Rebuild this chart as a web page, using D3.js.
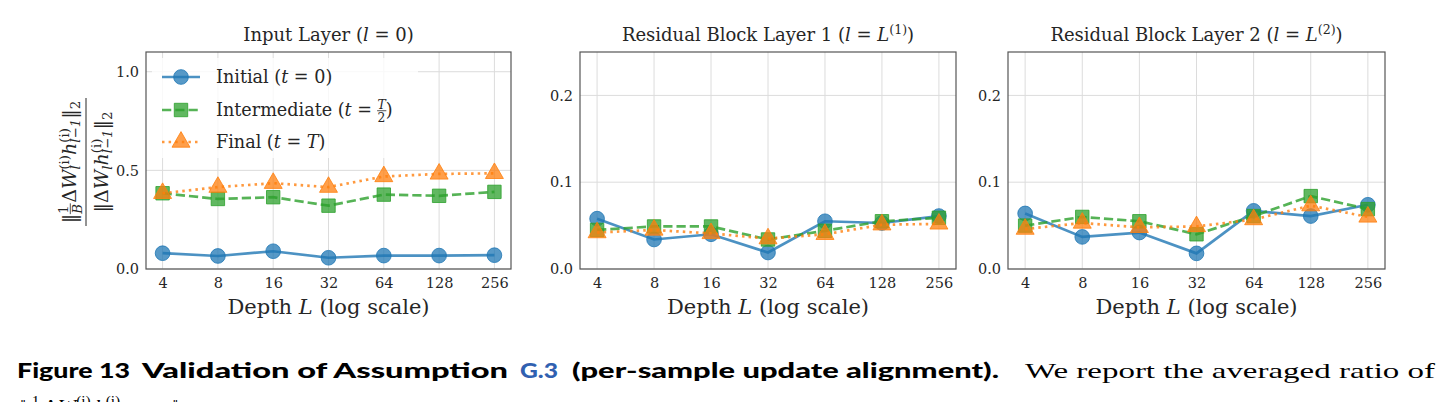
<!DOCTYPE html>
<html>
<head>
<meta charset="utf-8">
<script src="https://cdn.jsdelivr.net/npm/d3@7"></script>
<style>
  body { margin: 0; background: #fff; }
  svg { display: block; }
  text { font-family: "DejaVu Serif", serif; fill: #262626; }
</style>
</head>
<body>
<div id="chart"></div>
<script>
// depths on the x axis (log2)
const depths = [4, 8, 16, 32, 64, 128, 256];
const seriesNames = ["Initial", "Intermediate", "Final"];

// Input layer (l = 0)
const inputInitial = [0.080, 0.066, 0.090, 0.057, 0.068, 0.068, 0.070];
const inputIntermediate = [0.384, 0.355, 0.364, 0.321, 0.377, 0.371, 0.391];
const inputFinal = [0.384, 0.415, 0.435, 0.415, 0.469, 0.482, 0.485];

// Residual block layer 1
const res1Initial = [0.058, 0.034, 0.040, 0.019, 0.055, 0.053, 0.061];
const res1Intermediate = [0.045, 0.049, 0.049, 0.034, 0.044, 0.055, 0.059];
const res1Final = [0.042, 0.045, 0.041, 0.035, 0.040, 0.051, 0.052];

// Residual block layer 2
const res2Initial = [0.064, 0.037, 0.042, 0.018, 0.067, 0.061, 0.074];
const res2Intermediate = [0.050, 0.060, 0.055, 0.040, 0.061, 0.084, 0.069];
const res2Final = [0.046, 0.053, 0.048, 0.049, 0.057, 0.073, 0.060];

const inputTicks = [0.0, 0.5, 1.0];
const resTicks = [0.0, 0.1, 0.2];

const colors = ["#1f77b4", "#2ca02c", "#ff7f0e"];
const dashes = [null, "9.25,4", "2.5,4.1"];
const symbols = [d3.symbolCircle, d3.symbolSquare, d3.symbolTriangle];
const symbolSizes = [170, 180, 140];

const svg = d3.select("#chart").append("svg")
    .attr("width", 1442).attr("height", 402);

// rich text helper: parts are {t, it, s: "sup"|"sub"|"num"|"den", back, bar, dx}
function rich(text, parts, size) {
    let cur = 0, backW = 0, subW = 0, idx = 0;
    const bars = [];
    const shifts = {sup: -0.38, sub: 0.22, num: -0.42, den: 0.34};
    parts.forEach((p, i) => {
        const small = p.s ? size * 0.7 : size;
        const target = (shifts[p.s] || 0) * size;
        const ts = text.append("tspan")
            .attr("dy", target - cur)
            .style("font-size", small + "px")
            .text(p.t);
        if (p.it) ts.style("font-style", "italic");
        if (p.dx) ts.attr("dx", p.dx);
        const prev = parts[i - 1];
        if (prev && prev.back) ts.attr("dx", -backW);
        if (prev && prev.afterBack && backW > subW) ts.attr("dx", backW - subW);
        cur = target;
        if (p.back) { backW = ts.node().getComputedTextLength(); p.idx = idx; }
        if (prev && prev.back) {
            subW = ts.node().getComputedTextLength();
            p.afterBack = true;
            if (prev.bar) bars.push({idx: prev.idx, w: Math.max(backW, subW)});
        }
        idx += p.t.length;
    });
    if (cur !== 0) text.append("tspan").attr("dy", -cur).text("");
    const parent = d3.select(text.node().parentNode);
    const y0 = +text.attr("y");
    bars.forEach(b => {
        const pt = text.node().getStartPositionOfChar(b.idx);
        parent.append("line")
            .attr("x1", pt.x - 0.5).attr("x2", pt.x + b.w + 0.5)
            .attr("y1", y0 - 0.3 * size).attr("y2", y0 - 0.3 * size)
            .attr("stroke", "#262626").attr("stroke-width", 0.8);
    });
    return text;
}

const panels = [
    {
        frame: [146, 511], yMax: 1.1, ticks: inputTicks,
        data: [inputInitial, inputIntermediate, inputFinal],
        title: [{t: "Input Layer ("}, {t: "l", it: true}, {t: " = 0)"}]
    },
    {
        frame: [580, 956], yMax: 0.25, ticks: resTicks,
        data: [res1Initial, res1Intermediate, res1Final],
        title: [{t: "Residual Block Layer 1 ("}, {t: "l", it: true}, {t: " = "}, {t: "L", it: true}, {t: "(1)", s: "sup"}, {t: ")"}]
    },
    {
        frame: [1008, 1385], yMax: 0.25, ticks: resTicks,
        data: [res2Initial, res2Intermediate, res2Final],
        title: [{t: "Residual Block Layer 2 ("}, {t: "l", it: true}, {t: " = "}, {t: "L", it: true}, {t: "(2)", s: "sup"}, {t: ")"}]
    }
];

const plotTop = 52, plotBottom = 269;

panels.forEach((p, pi) => {
    const [left, right] = p.frame;
    const x = d3.scaleLog().base(2)
        .domain([4 / Math.pow(2, 0.3), 256 * Math.pow(2, 0.3)])
        .range([left, right]);
    const y = d3.scaleLinear().domain([0, p.yMax]).range([plotBottom, plotTop]);
    const g = svg.append("g");

    // grid
    g.selectAll(".gx").data(depths).enter().append("line")
        .attr("x1", d => x(d)).attr("x2", d => x(d))
        .attr("y1", plotTop).attr("y2", plotBottom)
        .attr("stroke", "#dcdcdc").attr("stroke-width", 1);
    g.selectAll(".gy").data(p.ticks).enter().append("line")
        .attr("x1", left).attr("x2", right)
        .attr("y1", d => y(d)).attr("y2", d => y(d))
        .attr("stroke", "#dcdcdc").attr("stroke-width", 1);

    // axes (no tick marks)
    const xAxis = g.append("g").attr("transform", `translate(0,${plotBottom})`)
        .call(d3.axisBottom(x).tickValues(depths).tickFormat(d3.format("d")).tickSize(0).tickPadding(9));
    const yAxis = g.append("g").attr("transform", `translate(${left},0)`)
        .call(d3.axisLeft(y).tickValues(p.ticks).tickFormat(d3.format(".1f")).tickSize(0).tickPadding(7));
    [xAxis, yAxis].forEach(a => {
        a.select(".domain").remove();
        a.selectAll("text").style("font-family", "DejaVu Serif").style("font-size", "14.5px").attr("fill", "#262626");
    });

    // legend background sits under the series in the first panel
    if (pi === 0) {
        g.append("rect").attr("x", 152).attr("y", 58).attr("width", 266).attr("height", 100)
            .attr("fill", "#fff").attr("fill-opacity", 0.8);
    }

    // series
    p.data.forEach((vals, si) => {
        const pts = depths.map((d, i) => [d, vals[i]]);
        g.append("path")
            .datum(pts)
            .attr("d", d3.line().x(d => x(d[0])).y(d => y(d[1])))
            .attr("fill", "none")
            .attr("stroke", colors[si])
            .attr("stroke-opacity", 0.8)
            .attr("stroke-width", 2.7)
            .attr("stroke-dasharray", dashes[si]);
        g.selectAll(".m" + si).data(pts).enter().append("path")
            .attr("transform", d => `translate(${x(d[0])},${y(d[1])})`)
            .attr("d", d3.symbol().type(symbols[si]).size(symbolSizes[si]))
            .attr("fill", colors[si]).attr("fill-opacity", 0.75)
            .attr("stroke", colors[si]).attr("stroke-opacity", 0.8).attr("stroke-width", 1);
    });

    // frame
    g.append("rect")
        .attr("x", left).attr("y", plotTop)
        .attr("width", right - left).attr("height", plotBottom - plotTop)
        .attr("fill", "none").attr("stroke", "#555").attr("stroke-width", 1.2);

    // title
    rich(g.append("text").attr("x", (left + right) / 2).attr("y", 41)
        .attr("text-anchor", "middle"), p.title, 18);

    // x label
    rich(g.append("text").attr("x", (left + right) / 2).attr("y", 314)
        .attr("text-anchor", "middle"),
        [{t: "Depth "}, {t: "L", it: true}, {t: " (log scale)"}], 21);
});

// legend in first panel
const legendLabels = [
    [{t: "Initial ("}, {t: "t", it: true}, {t: " = 0)"}],
    [{t: "Intermediate ("}, {t: "t", it: true}, {t: " = "}, {t: "T", it: true, s: "num", back: true, bar: true}, {t: "2", s: "den"}, {t: ")"}],
    [{t: "Final ("}, {t: "t", it: true}, {t: " = "}, {t: "T", it: true}, {t: ")"}]
];
const legend = svg.append("g");
seriesNames.forEach((name, i) => {
    const ly = [77, 110, 142][i];
    legend.append("line")
        .attr("x1", 162).attr("x2", 200).attr("y1", ly).attr("y2", ly)
        .attr("stroke", colors[i]).attr("stroke-opacity", 0.8)
        .attr("stroke-width", 2.7).attr("stroke-dasharray", dashes[i]);
    legend.append("path")
        .attr("transform", `translate(181,${ly})`)
        .attr("d", d3.symbol().type(symbols[i]).size(symbolSizes[i]))
        .attr("fill", colors[i]).attr("fill-opacity", 0.75)
        .attr("stroke", colors[i]).attr("stroke-opacity", 0.8);
    rich(legend.append("text").attr("x", 216).attr("y", ly + 6), legendLabels[i], 17.6);
});

// y label: fraction, rotated
const yl = svg.append("g").attr("transform", "translate(86,162) rotate(-90)");
yl.append("line").attr("x1", -64).attr("x2", 64).attr("y1", 0).attr("y2", 0)
    .attr("stroke", "#262626").attr("stroke-width", 1);
rich(yl.append("text").attr("x", 0).attr("y", -10).attr("text-anchor", "middle"), [
    {t: "‖"}, {t: "1", s: "num", back: true, bar: true}, {t: "B", it: true, s: "den"},
    {t: "Δ", dx: 1}, {t: "W", it: true}, {t: "(i)", s: "sup", back: true}, {t: "l", it: true, s: "sub"},
    {t: "h", it: true, dx: 1}, {t: "(i)", s: "sup", back: true}, {t: "l−1", it: true, s: "sub"},
    {t: "‖"}, {t: "2", s: "sub"}
], 19);
rich(yl.append("text").attr("x", 0).attr("y", 22).attr("text-anchor", "middle"), [
    {t: "‖Δ"}, {t: "W", it: true}, {t: "l", it: true, s: "sub"},
    {t: "h", it: true}, {t: "(i)", s: "sup", back: true}, {t: "l−1", it: true, s: "sub"},
    {t: "‖"}, {t: "2", s: "sub"}
], 19);

// caption
const cap = svg.append("g");
[
    {t: "Figure 13", x: 17, w: 113, c: "#000"},
    {t: "Validation of Assumption", x: 142, w: 366, c: "#000"},
    {t: "G.3", x: 520, w: 38, c: "#3060b0"},
    {t: "(per-sample update alignment).", x: 572, w: 427, c: "#000"}
].forEach(d => {
    cap.append("text").attr("x", d.x).attr("y", 378)
        .attr("textLength", d.w).attr("lengthAdjust", "spacingAndGlyphs")
        .style("font-family", "Lato, sans-serif").style("font-weight", 900)
        .style("font-size", "21px").style("fill", d.c).text(d.t);
});
svg.append("text").attr("x", 1025).attr("y", 378)
    .attr("textLength", 410).attr("lengthAdjust", "spacingAndGlyphs")
    .style("font-family", "Liberation Serif").style("font-size", "22px").style("fill", "#000")
    .text("We report the averaged ratio of");
rich(svg.append("text").attr("x", 20).attr("y", 414).style("fill", "#000")
    .style("font-family", "Liberation Serif"), [
    {t: "‖ "}, {t: "1", s: "sup"}, {t: " Δ"}, {t: "W", it: true}, {t: "(i)", s: "sup"},
    {t: "h", it: true, dx: 4}, {t: "(i)", s: "sup"}, {t: "‖", dx: 52}
], 22);
</script>
</body>
</html>
